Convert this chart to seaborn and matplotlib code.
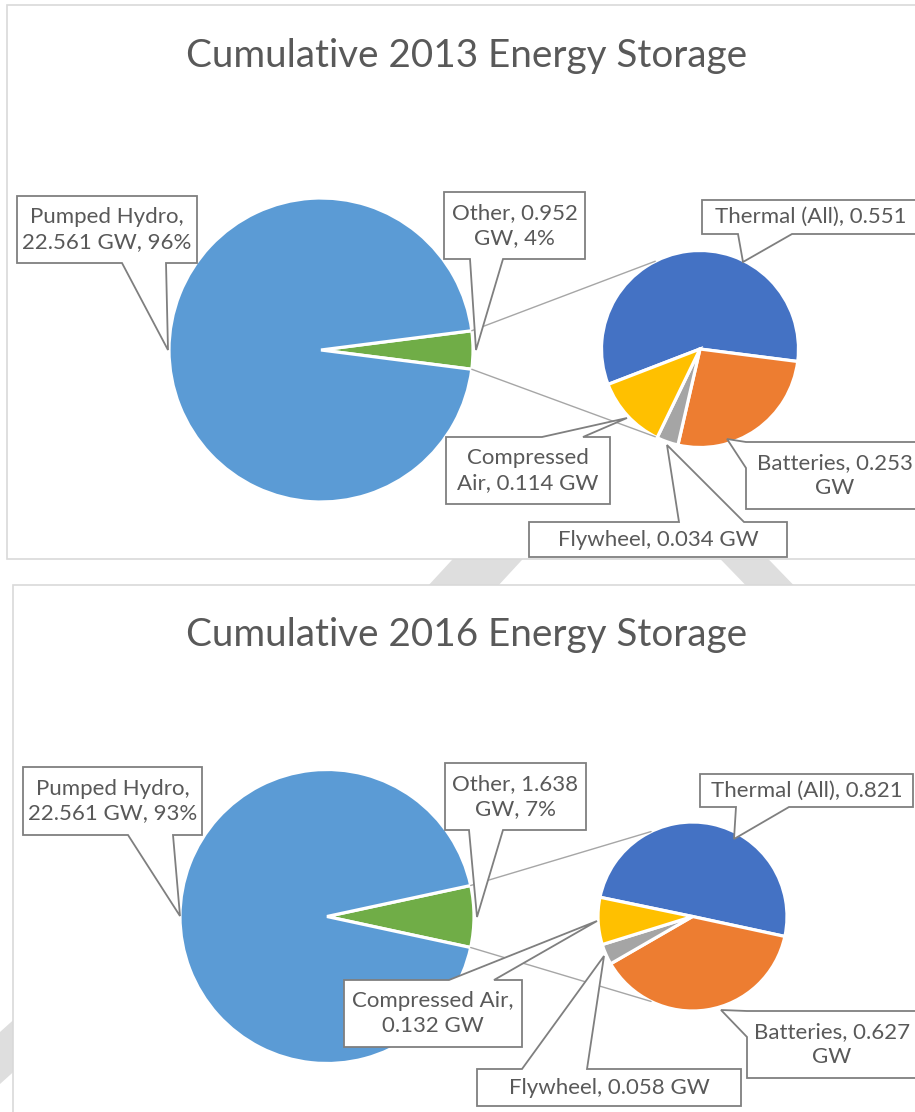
import numpy as np
import matplotlib
matplotlib.use("Agg")
import matplotlib.pyplot as plt
from matplotlib.patches import Polygon, Rectangle
import seaborn as sns

sns.set_theme(style="white")
plt.rcParams['font.family'] = ['Lato', 'DejaVu Sans']

W, H = 915, 1112

# ---- data (GW) ----
years = ["2013", "2016"]
main_names = ["Pumped Hydro", "Other"]
pumped_hydro = [22.561, 22.561]
other_total = [0.952, 1.638]
sub_names = ["Thermal (All)", "Batteries", "Flywheel", "Compressed Air"]
thermal = [0.551, 0.821]
batteries = [0.253, 0.627]
flywheel = [0.034, 0.058]
compressed_air = [0.114, 0.132]

main_colors = sns.color_palette(["#5B9BD5", "#70AD47"])
sub_colors = sns.color_palette(["#4472C4", "#ED7D31", "#A5A5A5", "#FFC000"])

TXT = "#595959"
EDGE = "#7f7f7f"

# ---- layout (image pixels, y down) ----
panels = [
    dict(box=(7, 5), title_y=67, main_c=(321, 350), main_r=152,
         sub_c=(700, 349), sub_r=98.5, conn_ang=117,
         labels={
             "Pumped Hydro": dict(box=(17, 196, 197, 263), edge="bottom", base=(122, 166), tip=(168, 350),
                                  fmt="{n},\n{v:.3f} GW, {p:.0f}%"),
             "Other": dict(box=(444, 192, 585, 259), edge="bottom", base=(470, 503), tip=(476, 350),
                           fmt="{n}, {v:.3f}\nGW, {p:.0f}%"),
             "Thermal (All)": dict(box=(702, 200, 920, 234), edge="bottom", base=(738, 792), tip=(743, 262),
                                   fmt="{n}, {v:.3f}"),
             "Batteries": dict(box=(746, 442, 924, 509), edge="left", base=(442, 468), tip=(727, 439),
                               fmt="{n}, {v:.3f}\nGW"),
             "Compressed Air": dict(box=(446, 437, 610, 504), edge="top", base=(542, 583), tip=(627, 418),
                                    fmt="{n1}\n{n2}, {v:.3f} GW"),
             "Flywheel": dict(box=(529, 522, 787, 557), edge="top", base=(679, 744), tip=(667, 445),
                              fmt="{n}, {v:.3f} GW"),
         }),
    dict(box=(13, 585), title_y=646, main_c=(327, 916.5), main_r=147,
         sub_c=(692.5, 916.5), sub_r=94.5, conn_ang=116,
         labels={
             "Pumped Hydro": dict(box=(23, 767, 202, 835), edge="bottom", base=(128, 173), tip=(180, 916),
                                  fmt="{n},\n{v:.3f} GW, {p:.0f}%"),
             "Other": dict(box=(445, 763, 586, 830), edge="bottom", base=(469, 503), tip=(477, 917),
                           fmt="{n}, {v:.3f}\nGW, {p:.0f}%"),
             "Thermal (All)": dict(box=(700, 774, 913, 807), edge="bottom", base=(736, 789), tip=(734, 839),
                                   fmt="{n}, {v:.3f}"),
             "Batteries": dict(box=(747, 1011, 917, 1078), edge="left", base=(1011, 1037), tip=(721, 1010),
                               fmt="{n}, {v:.3f}\nGW"),
             "Compressed Air": dict(box=(344, 980, 522, 1047), edge="top", base=(449, 494), tip=(597, 921),
                                    fmt="{n},\n{v:.3f} GW"),
             "Flywheel": dict(box=(477, 1069, 741, 1106), edge="top", base=(522, 587), tip=(604, 956),
                              fmt="{n}, {v:.3f} GW"),
         }),
]


def Y(y):
    return H - y


def callout(ax, spec, text):
    x0, y0, x1, y1 = spec["box"]
    a, b = spec["base"]
    tip = spec["tip"]
    if spec["edge"] == "bottom":
        pts = [(x0, y0), (x1, y0), (x1, y1), (b, y1), tip, (a, y1), (x0, y1)]
    elif spec["edge"] == "top":
        pts = [(x0, y0), (a, y0), tip, (b, y0), (x1, y0), (x1, y1), (x0, y1)]
    else:
        pts = [(x0, y0), (x1, y0), (x1, y1), (x0, y1), (x0, b), tip, (x0, a)]
    pts = [(px, Y(py)) for px, py in pts]
    ax.add_patch(Polygon(pts, closed=True, facecolor="white", edgecolor=EDGE,
                         linewidth=1.3, joinstyle="miter", zorder=5))
    ax.text((x0 + x1) / 2, Y((y0 + y1) / 2), text, ha="center", va="center",
            fontsize=16, color=TXT, linespacing=1.3, zorder=6)


fig = plt.figure(figsize=(W / 100, H / 100), dpi=100)
ax = fig.add_axes([0, 0, 1, 1])

# faint watermark stripes behind the panels
wm = "#dedede"
for poly in [
    [(475, 535), (545, 535), (485, 600), (415, 600)],
    [(697, 535), (745, 535), (808, 600), (760, 600)],
    [(-20, 1050), (30, 1005), (30, 1057), (-20, 1102)],
]:
    ax.add_patch(Polygon([(px, Y(py)) for px, py in poly], closed=True,
                         facecolor=wm, edgecolor="none", zorder=0))

for i, pan in enumerate(panels):
    bx, by = pan["box"]
    bottom = 559 if i == 0 else 1130
    ax.add_patch(Rectangle((bx, Y(bottom)), 940 - bx, bottom - by, facecolor="white",
                           edgecolor="#d9d9d9", linewidth=1.2, zorder=0.5))

    ax.text(467, Y(pan["title_y"]), f"Cumulative {years[i]} Energy Storage",
            ha="center", va="baseline", fontsize=27.8, color=TXT, zorder=6)

    main_vals = [pumped_hydro[i], other_total[i]]
    sub_vals = [thermal[i], batteries[i], flywheel[i], compressed_air[i]]
    total = sum(main_vals)
    other_deg = 360 * other_total[i] / total
    thermal_deg = 360 * thermal[i] / sum(sub_vals)

    mc = (pan["main_c"][0], Y(pan["main_c"][1]))
    sc = (pan["sub_c"][0], Y(pan["sub_c"][1]))
    wp = dict(edgecolor="white", linewidth=2.3)

    ax.pie(main_vals[::-1], colors=main_colors[::-1], startangle=-other_deg / 2,
           radius=pan["main_r"], center=mc, wedgeprops=wp, frame=True)
    ax.pie(sub_vals, colors=sub_colors, startangle=thermal_deg - other_deg / 2,
           counterclock=False, radius=pan["sub_r"], center=sc, wedgeprops=wp, frame=True)

    # connector lines from the "Other" slice to the secondary pie
    for s in (1, -1):
        a1 = np.radians(s * other_deg / 2)
        a2 = np.radians(s * pan["conn_ang"])
        ax.plot([mc[0] + pan["main_r"] * np.cos(a1), sc[0] + pan["sub_r"] * np.cos(a2)],
                [mc[1] + pan["main_r"] * np.sin(a1), sc[1] + pan["sub_r"] * np.sin(a2)],
                color="#a6a6a6", linewidth=1.0, zorder=3)

    # data labels
    pct = [100 * v / total for v in main_vals]
    for name, v, p in zip(main_names, main_vals, pct):
        callout(ax, pan["labels"][name], pan["labels"][name]["fmt"].format(n=name, v=v, p=p))
    for name, v in zip(sub_names, sub_vals):
        n1, n2 = name.split(" ", 1) if " " in name else (name, "")
        callout(ax, pan["labels"][name], pan["labels"][name]["fmt"].format(n=name, n1=n1, n2=n2, v=v))

ax.set_xlim(0, W)
ax.set_ylim(0, H)
ax.set_aspect("equal")
ax.axis("off")
fig.savefig("out.png", dpi=100, facecolor="white")
